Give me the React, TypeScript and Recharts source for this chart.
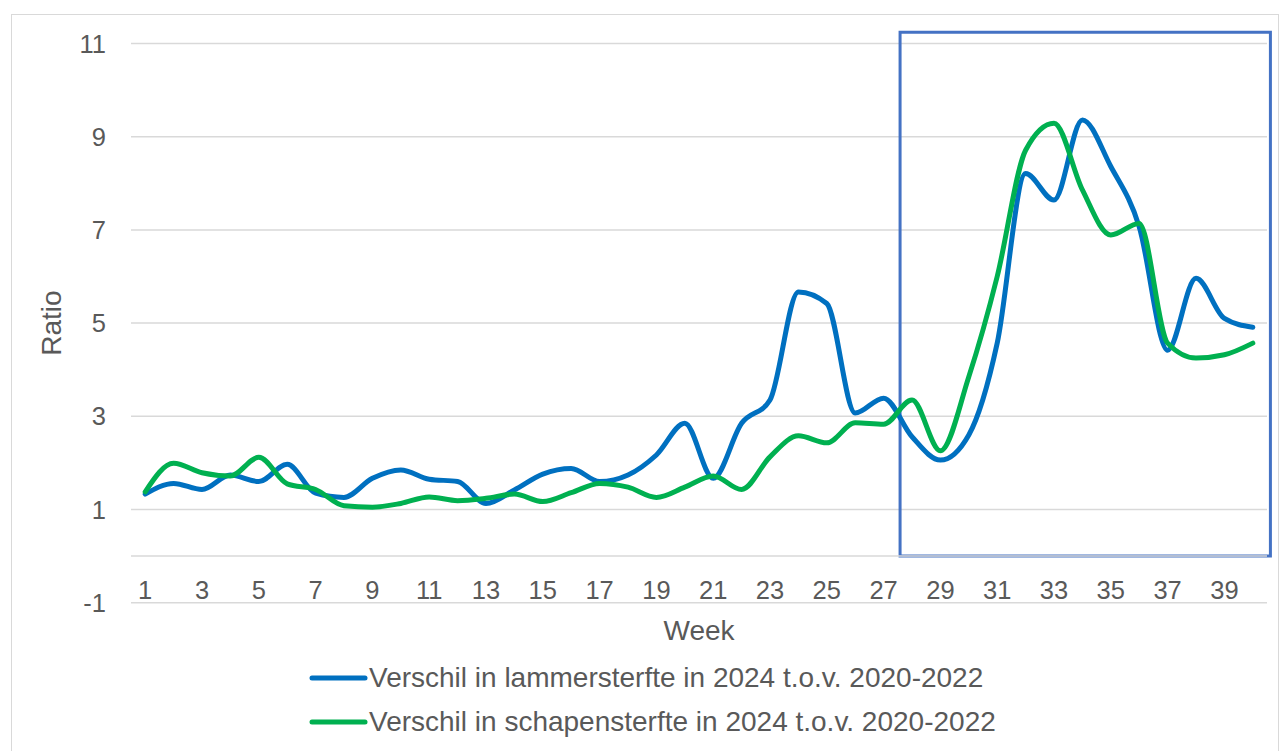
import { LineChart, Line, XAxis, YAxis, CartesianGrid, Legend, ReferenceLine, ReferenceArea } from 'recharts';

const weeks = [1, 2, 3, 4, 5, 6, 7, 8, 9, 10, 11, 12, 13, 14, 15, 16, 17, 18, 19, 20, 21, 22, 23, 24, 25, 26, 27, 28, 29, 30, 31, 32, 33, 34, 35, 36, 37, 38, 39, 40];

const lammersterfte = [1.33, 1.56, 1.43, 1.74, 1.6, 1.97, 1.35, 1.26, 1.67, 1.85, 1.65, 1.6, 1.13, 1.42, 1.76, 1.88, 1.6, 1.74, 2.17, 2.85, 1.67, 2.85, 3.35, 5.67, 5.42, 3.07, 3.39, 2.56, 2.06, 2.6, 4.57, 8.21, 7.64, 9.36, 8.36, 7.07, 4.42, 5.96, 5.1, 4.91];

const schapensterfte = [1.38, 1.99, 1.79, 1.72, 2.12, 1.55, 1.43, 1.08, 1.05, 1.13, 1.27, 1.19, 1.24, 1.33, 1.17, 1.36, 1.56, 1.48, 1.26, 1.48, 1.72, 1.43, 2.13, 2.58, 2.43, 2.86, 2.83, 3.35, 2.26, 3.85, 6.0, 8.71, 9.29, 7.86, 6.89, 7.14, 4.57, 4.25, 4.32, 4.57];

const weekTicks = [1, 3, 5, 7, 9, 11, 13, 15, 17, 19, 21, 23, 25, 27, 29, 31, 33, 35, 37, 39];
const ratioTicks = [-1, 1, 3, 5, 7, 9, 11];

const seriesNames = [
  'Verschil in lammersterfte in 2024 t.o.v. 2020-2022',
  'Verschil in schapensterfte in 2024 t.o.v. 2020-2022',
];

// highlighted period (week / ratio units)
const highlight = { x1: 27.58, x2: 40.62, y1: 0, y2: 11.24 };

const FONT = '"Liberation Sans", Arial, sans-serif';
const TEXT = '#595959';
const GRID = '#d9d9d9';

const chartData = weeks.map((week, i) => ({
  week,
  lammer: lammersterfte[i],
  schapen: schapensterfte[i],
}));

const WeekTick = (props: any) => {
  const { x, y, payload } = props;
  return (
    <text x={x} y={y} dy={-4} textAnchor="middle" fill={TEXT} fontSize={25.5} fontFamily={FONT}>
      {payload.value}
    </text>
  );
};

const renderLegend = (props: any) => {
  const { payload } = props;
  return (
    <div style={{ fontFamily: FONT, fontSize: 28, color: TEXT }}>
      {payload.map((entry: any) => (
        <div key={entry.value} style={{ display: 'flex', alignItems: 'center', height: 44, whiteSpace: 'nowrap' }}>
          <svg width={60} height={10}>
            <line x1={3} y1={5} x2={56} y2={5} stroke={entry.color} strokeWidth={5} strokeLinecap="round" />
          </svg>
          <span>{entry.value}</span>
        </div>
      ))}
    </div>
  );
};

export default function App() {
  return (
    <div style={{ position: 'absolute', left: 0, top: 0, width: 1280, height: 751, overflow: 'hidden', background: '#fff' }}>
      <div
        style={{
          position: 'absolute',
          left: 11,
          top: 14,
          width: 1266,
          height: 780,
          border: `1.5px solid ${GRID}`,
        }}
      />
      <div style={{ position: 'absolute', left: 0, top: 0 }}>
        <LineChart width={1280} height={751} data={chartData} margin={{ top: 43.5, right: 13, bottom: 0, left: 0 }}>
          <CartesianGrid vertical={false} stroke={GRID} strokeWidth={1.5} />
          <ReferenceLine y={0} stroke={GRID} strokeWidth={1.5} />
          <XAxis
            dataKey="week"
            type="number"
            domain={[0.5, 40.5]}
            ticks={weekTicks}
            interval={0}
            axisLine={false}
            tickLine={false}
            tickSize={0}
            tickMargin={0}
            height={148.3}
            tick={<WeekTick />}
            label={{
              content: ({ viewBox }: any) => (
                <text
                  x={viewBox.x + viewBox.width / 2}
                  y={viewBox.y + 37}
                  textAnchor="middle"
                  fill={TEXT}
                  fontSize={28}
                  fontFamily={FONT}
                >
                  Week
                </text>
              ),
            }}
          />
          <YAxis
            type="number"
            domain={[-1, 11]}
            ticks={ratioTicks}
            interval={0}
            axisLine={false}
            tickLine={false}
            tickSize={0}
            tickMargin={25}
            width={131}
            tick={{ fill: TEXT, fontSize: 25.5, fontFamily: FONT }}
            label={{
              content: ({ viewBox }: any) => {
                const cy = viewBox.y + viewBox.height / 2;
                return (
                  <text
                    x={52}
                    y={cy}
                    transform={`rotate(-90, 52, ${cy})`}
                    textAnchor="middle"
                    dominantBaseline="central"
                    fill={TEXT}
                    fontSize={28}
                    fontFamily={FONT}
                  >
                    Ratio
                  </text>
                );
              },
            }}
          />
          <Line
            type="monotone"
            dataKey="lammer"
            name={seriesNames[0]}
            stroke="#0070C0"
            strokeWidth={5}
            strokeLinecap="round"
            dot={false}
            isAnimationActive={false}
          />
          <Line
            type="monotone"
            dataKey="schapen"
            name={seriesNames[1]}
            stroke="#00B050"
            strokeWidth={5}
            strokeLinecap="round"
            dot={false}
            isAnimationActive={false}
          />
          <ReferenceArea
            x1={highlight.x1}
            x2={highlight.x2}
            y1={highlight.y1}
            y2={highlight.y2}
            ifOverflow="visible"
            fill="none"
            fillOpacity={0}
            stroke="#4472C4"
            strokeWidth={3}
          />
          <Legend
            layout="vertical"
            align="center"
            verticalAlign="middle"
            content={renderLegend}
            wrapperStyle={{ left: 309, top: 656, width: 960 }}
          />
        </LineChart>
      </div>
    </div>
  );
}
